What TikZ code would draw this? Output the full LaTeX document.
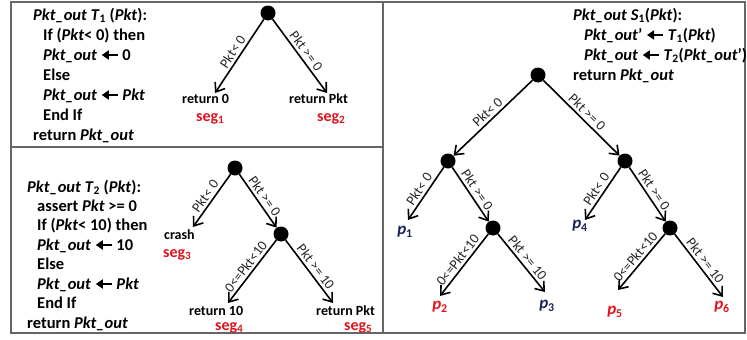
\documentclass[tikz,border=0pt]{standalone}
\usepackage{fontspec}
\setmainfont{Carlito}
\usetikzlibrary{arrows.meta}
\definecolor{segred}{RGB}{225,20,30}
\definecolor{pnavy}{RGB}{25,35,85}
\newcommand{\pk}{\textit{Pkt}}
\newcommand{\pko}{\textit{Pkt\_out}}
\newcommand{\lar}{\tikz[x=1pt,y=1pt,baseline=-5pt]\draw[line width=2pt,-{Triangle[length=7pt,width=9pt]}] (16,0)--(0,0);}
\newcommand{\sub}[1]{\textsubscript{\upshape #1}}
\tikzset{
  code/.style={anchor=base west, inner sep=0pt, font=\fontsize{16.5}{19}\selectfont\bfseries},
  elab/.style={font=\fontsize{14}{15}\selectfont, sloped, above, inner sep=2.5pt, text=black!85},
  dot/.style={circle, fill=black, minimum size=15pt, inner sep=0pt},
  conn/.style={line width=1.6pt, -{Straight Barb[length=8pt,width=12pt]}},
  ret/.style={anchor=base west, font=\fontsize{14}{16}\selectfont\bfseries, inner sep=0pt},
  seg/.style={anchor=base west, font=\fontsize{16}{18}\selectfont\bfseries, text=segred, inner sep=0pt},
  plab/.style={font=\fontsize{17}{18}\selectfont\bfseries\itshape, inner sep=0pt},
  frame/.style={draw=black!60, line width=2pt}
}
\begin{document}
\begin{tikzpicture}[x=1pt,y=-1pt]
\useasboundingbox (0,0) rectangle (747,340);
% frame
\draw[frame] (11,1.5) rectangle (745,333);
\draw[frame] (383,1.5) -- (383,333);
\draw[frame] (11,147) -- (383,147);

% ---------- T1 code
\node[code] (a1) at (33,20) {\pko{} \textit{T}\sub{1} (\pk):};
\node[code] (a2) at (43,40) {If (\pk< 0) then};
\node[code] (a3) at (43,60) {\pko{} \lar{} 0};
\node[code] (a4) at (43,80) {Else};
\node[code] (a5) at (43,100) {\pko{} \lar{} \pk};
\node[code] (a6) at (43,120) {End If};
\node[code] (a7) at (33,140) {return \pko};

% ---------- T1 tree
\node[dot] (r1) at (268,13) {};
\coordinate (c1) at (215,93);
\coordinate (c2) at (327,93);
\draw[conn] (r1) -- node[elab] {Pkt< 0} (c1);
\draw[conn] (r1) -- node[elab] {Pkt >= 0} (c2);
\node[ret] (t1a) at (182,103) {return 0};
\node[ret] (t1b) at (289,103) {return Pkt};
\node[seg] (s1) at (196,121) {seg\sub{1}};
\node[seg] (s2) at (317,121) {seg\sub{2}};

% ---------- T2 code
\node[code] (b1) at (27,192) {\pko{} \textit{T}\sub{2} (\pk):};
\node[code] (b2) at (37,211) {assert \pk{} >= 0};
\node[code] (b3) at (37,230) {If (\pk< 10) then};
\node[code] (b4) at (37,250) {\pko{} \lar{} 10};
\node[code] (b5) at (37,269) {Else};
\node[code] (b6) at (37,289) {\pko{} \lar{} \pk};
\node[code] (b7) at (37,308) {End If};
\node[code] (b8) at (27,328) {return \pko};

% ---------- T2 tree
\node[dot] (r2) at (235,168) {};
\node[dot] (m2) at (281,234) {};
\coordinate (c3) at (193,227);
\coordinate (c4) at (228,303);
\coordinate (c5) at (333,303);
\draw[conn] (r2) -- node[elab] {Pkt< 0} (c3);
\draw[conn] (r2) -- node[elab] {Pkt >= 0} (m2);
\draw[conn] (m2) -- node[elab] {0<=Pkt<10} (c4);
\draw[conn] (m2) -- node[elab] {Pkt >= 10} (c5);
\node[ret] (t2a) at (164,239) {crash};
\node[seg] (s3) at (163,257) {seg\sub{3}};
\node[ret] (t2b) at (189,315) {return 10};
\node[ret] (t2c) at (316,315) {return Pkt};
\node[seg] (s4) at (215,330) {seg\sub{4}};
\node[seg] (s5) at (344,330) {seg\sub{5}};

% ---------- S1 code
\node[code] (d1) at (573,20) {\pko{} \textit{S}\sub{1}(\pk):};
\node[code] (d2) at (584,40) {\pko’ \lar{} \textit{T}\sub{1}(\pk)};
\node[code] (d3) at (584,60) {\pko{} \lar{} \textit{T}\sub{2}(\pko’)};
\node[code] (d4) at (573,80) {return \pko};

% ---------- S1 tree
\node[dot] (r3) at (538,75) {};
\node[dot] (l3) at (448,161) {};
\node[dot] (k3) at (625,161) {};
\node[dot] (ml) at (493,228) {};
\node[dot] (mr) at (670,228) {};
\coordinate (q1) at (408,220);
\coordinate (q4) at (585,220);
\coordinate (q2) at (440,296);
\coordinate (q3) at (545,292);
\coordinate (q5) at (618,290);
\coordinate (q6) at (723,297);
\draw[conn] (r3) -- node[elab] {Pkt< 0} (l3);
\draw[conn] (r3) -- node[elab] {Pkt >= 0} (k3);
\draw[conn] (l3) -- node[elab] {Pkt< 0} (q1);
\draw[conn] (l3) -- node[elab] {Pkt >= 0} (ml);
\draw[conn] (k3) -- node[elab] {Pkt< 0} (q4);
\draw[conn] (k3) -- node[elab] {Pkt >= 0} (mr);
\draw[conn] (ml) -- node[elab] {0<=Pkt<10} (q2);
\draw[conn] (ml) -- node[elab] {Pkt >= 10} (q3);
\draw[conn] (mr) -- node[elab] {0<=Pkt<10} (q5);
\draw[conn] (mr) -- node[elab] {Pkt >= 10} (q6);
\node[plab, text=pnavy] (p1) at (405,232) {p\sub{1}};
\node[plab, text=segred] (p2) at (440,307) {p\sub{2}};
\node[plab, text=pnavy] (p3) at (547,306) {p\sub{3}};
\node[plab, text=pnavy] (p4) at (580,226) {p\sub{4}};
\node[plab, text=segred] (p5) at (615,312) {p\sub{5}};
\node[plab, text=segred] (p6) at (722,307) {p\sub{6}};
\end{tikzpicture}
\end{document}
